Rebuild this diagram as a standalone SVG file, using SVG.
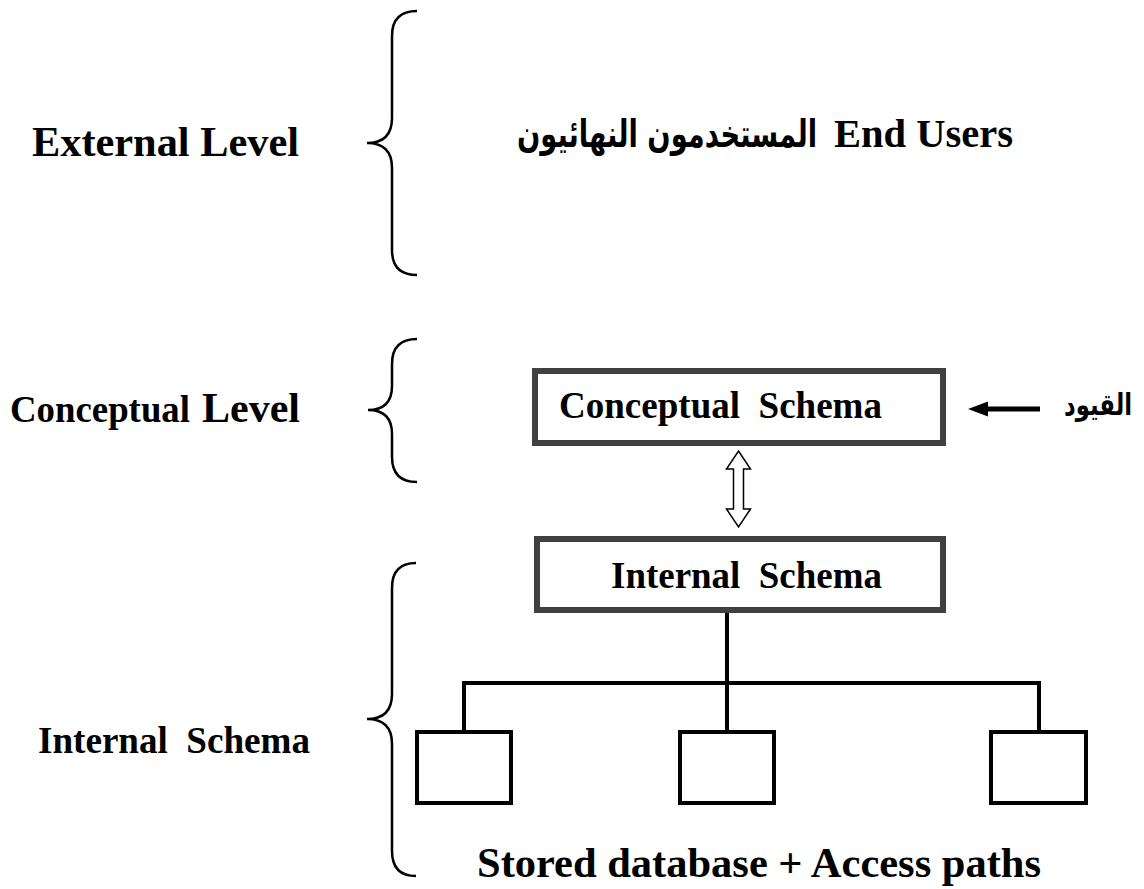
<svg xmlns="http://www.w3.org/2000/svg" width="1144" height="889" viewBox="0 0 1144 889">
<style>
.t{font-family:"Liberation Serif","Times New Roman",serif;font-weight:bold;fill:#000}
.ar{font-family:"DejaVu Sans","Noto Sans",sans-serif;font-weight:bold;fill:#000}
.brace{fill:none;stroke:#000;stroke-width:2.5}
.box{fill:#fff;stroke:#404040;stroke-width:6}
.small{fill:#fff;stroke:#000;stroke-width:4}
.line{fill:none;stroke:#000;stroke-width:4}
</style>
<rect width="1144" height="889" fill="#fff"/>
<g id="labels">
<text class="t" x="32" y="156" font-size="42" textLength="267" lengthAdjust="spacingAndGlyphs">External Level</text>
<text class="t" x="10" y="422" font-size="37" textLength="180" lengthAdjust="spacingAndGlyphs">Conceptual</text>
<text class="t" x="202" y="422" font-size="42" textLength="98" lengthAdjust="spacingAndGlyphs">Level</text>
<text class="t" x="38" y="753" font-size="37" textLength="272" lengthAdjust="spacingAndGlyphs" xml:space="preserve">Internal  Schema</text>
</g>
<g id="braces">
<path class="brace" d="M417,11 Q392,11 392,36 L392,118 Q392,143 367,143 Q392,143 392,168 L392,250 Q392,275 417,275"/>
<path class="brace" d="M417,339 Q392,339 392,364 L392,386 Q392,410 368,410 Q392,410 392,434 L392,457 Q392,482 417,482"/>
<path class="brace" d="M416,563 Q392,563 392,588 L392,694 Q392,719 367,719 Q392,719 392,744 L392,851 Q392,876 416,876"/>
</g>
<g id="end-users">
<text class="ar" x="667" y="147" font-size="38" text-anchor="middle" textLength="300" lengthAdjust="spacingAndGlyphs">المستخدمون النهائيون</text>
<text class="t" x="834" y="147" font-size="41" textLength="179" lengthAdjust="spacingAndGlyphs">End Users</text>
</g>
<g id="conceptual-schema">
<rect class="box" x="535" y="371" width="408" height="72"/>
<text class="t" x="559" y="418" font-size="37" textLength="323" lengthAdjust="spacingAndGlyphs" xml:space="preserve">Conceptual  Schema</text>
</g>
<g id="constraints">
<text class="ar" x="1098" y="415" font-size="30" text-anchor="middle" textLength="68" lengthAdjust="spacingAndGlyphs">القيود</text>
</g>
<g id="internal-schema">
<rect class="box" x="537" y="539" width="406" height="71"/>
<text class="t" x="611" y="588" font-size="37" textLength="271" lengthAdjust="spacingAndGlyphs" xml:space="preserve">Internal  Schema</text>
</g>
<g id="store-1"><rect class="small" x="417" y="732" width="94" height="71"/></g>
<g id="store-2"><rect class="small" x="680" y="732" width="94" height="71"/></g>
<g id="store-3"><rect class="small" x="991" y="732" width="95" height="71"/></g>
<g id="stored-label">
<text class="t" x="477" y="877" font-size="42" textLength="564" lengthAdjust="spacingAndGlyphs">Stored database + Access paths</text>
</g>
<g id="connectors">
<line x1="1040" y1="409" x2="984" y2="409" stroke="#000" stroke-width="5"/>
<polygon points="968,409 988,401.5 988,416.5" fill="#000"/>
<polygon points="738.5,451 750.5,469 743.5,469 743.5,509 750.5,509 738.5,527 726.5,509 733.5,509 733.5,469 726.5,469" fill="#fff" stroke="#000" stroke-width="1.5"/>
<line class="line" x1="727" y1="613" x2="727" y2="683"/>
<polyline class="line" points="464,732 464,683 1039,683 1039,732"/>
<line class="line" x1="727" y1="683" x2="727" y2="732"/>
</g>
</svg>
